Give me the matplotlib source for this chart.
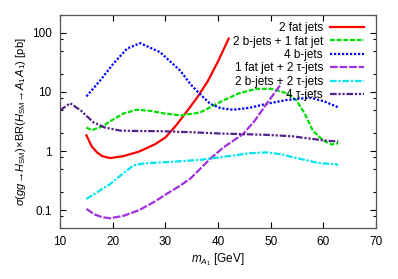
import numpy as np
import matplotlib
matplotlib.use('Agg')
import matplotlib.pyplot as plt
import matplotlib.ticker as ticker

plt.rcParams['font.family'] = ['Liberation Sans', 'DejaVu Sans']
plt.rcParams['mathtext.fontset'] = 'custom'
plt.rcParams['mathtext.rm'] = 'Liberation Sans'
plt.rcParams['mathtext.it'] = 'Liberation Sans:italic'

######################
## data
######################

fat2_x = [15, 16, 17, 18, 19.5, 22, 25, 28, 30, 32, 34, 36, 38, 40, 42]
fat2_y = [1.85, 1.2, 0.95, 0.82, 0.76, 0.82, 0.98, 1.3, 1.7, 2.7, 4.6, 8.0, 15, 33, 80]

b2fat1_x = [15, 16, 18, 20, 22, 24.5, 27, 30, 33, 36.6, 41, 44, 47.3, 50.2, 53, 54.9, 56.5, 58, 60, 61.6, 62.8]
b2fat1_y = [2.5, 2.25, 2.6, 3.4, 4.3, 5.0, 4.8, 4.3, 4.0, 4.5, 7.2, 9.5, 11.3, 11.3, 9.5, 7.2, 4.2, 2.2, 1.5, 1.29, 1.36]

b4_x = [15, 17.6, 20.1, 22.7, 25.2, 29, 32.8, 34.7, 36.2, 38.5, 40.5, 42.9, 46, 49.2, 53, 57.4, 60, 62.8]
b4_y = [8.4, 15.6, 30, 54, 67, 47, 23, 13.7, 9.9, 6.3, 5.3, 5.0, 5.4, 6.3, 7.3, 8.0, 7.0, 5.5]

fat1tau2_x = [15, 16.5, 18, 19.5, 22, 25, 28, 30.2, 32.5, 34.7, 36.6, 38.5, 41, 42.9, 44.8, 47, 49.2, 52]
fat1tau2_y = [0.105, 0.085, 0.076, 0.073, 0.08, 0.1, 0.14, 0.188, 0.25, 0.34, 0.5, 0.74, 1.15, 1.5, 1.96, 3.3, 6.3, 13.8]

b2tau2_x = [15, 17, 19.5, 22, 23.9, 26, 30.2, 36.6, 42.9, 46, 49.2, 52, 55.5, 59, 62.8]
b2tau2_y = [0.155, 0.2, 0.277, 0.42, 0.57, 0.62, 0.65, 0.71, 0.84, 0.92, 0.95, 0.88, 0.74, 0.63, 0.59]

tau4_x = [10, 11.9, 14, 16.3, 18.5, 21.4, 25, 29, 35, 40.4, 45, 49.2, 54, 58, 60.5, 62.8]
tau4_y = [4.9, 6.45, 4.8, 3.07, 2.5, 2.22, 2.18, 2.17, 2.08, 1.98, 1.93, 1.88, 1.78, 1.6, 1.5, 1.45]

labels = ['2 fat jets', '2 b-jets + 1 fat jet', '4 b-jets',
          '1 fat jet + 2 \u03c4-jets', '2 b-jets + 2 \u03c4-jets', '4 \u03c4-jets']

x_ticks = [10, 20, 30, 40, 50, 60, 70]
y_ticks = [0.1, 1, 10, 100]
y_ticklabels = ['0.1', '1', '10', '100']

######################
## setup plot
######################

fig = plt.figure(figsize=(3.98, 2.79), dpi=100)
ax = fig.add_axes([0.151, 0.183, 0.794, 0.763])

lw = 1.6
ax.plot(fat2_x, fat2_y, color='#ff0000', lw=lw, ls='-', label=labels[0])
ax.plot(b2fat1_x, b2fat1_y, color='#00e000', lw=lw, ls=(0, (2.2, 0.8)), label=labels[1])
ax.plot(b4_x, b4_y, color='#0000ff', lw=lw, ls=(0, (1.0, 0.8)), label=labels[2])
ax.plot(fat1tau2_x, fat1tau2_y, color='#a030e0', lw=lw, ls=(0, (3.5, 0.8)), label=labels[3])
ax.plot(b2tau2_x, b2tau2_y, color='#00e5ee', lw=lw, ls=(0, (3.0, 0.8, 1.0, 0.8)), label=labels[4])
ax.plot(tau4_x, tau4_y, color='#52228a', lw=lw, ls=(0, (3.0, 0.8, 1.0, 0.8, 1.0, 0.8)), label=labels[5])

ax.set_yscale('log')
ax.set_xlim(10, 70)
ax.set_ylim(0.05, 200)

ax.set_xticks(x_ticks)
ax.set_yticks(y_ticks)
ax.set_yticklabels(y_ticklabels)
ax.yaxis.set_minor_locator(ticker.LogLocator(base=10, subs=(2.0, 5.0, 8.0)))
ax.yaxis.set_minor_formatter(ticker.NullFormatter())

ax.tick_params(which='both', direction='in', top=True, right=True, labelsize=8.5, colors='black')
ax.tick_params(which='major', length=4, width=0.8, pad=6)
ax.tick_params(which='minor', length=2.5, width=0.8)
for sp in ax.spines.values():
    sp.set_color('#555555')
    sp.set_linewidth(0.9)

ax.set_xlabel(r'$m_{A_1}$ [GeV]', fontsize=8.5, labelpad=2)
ax.set_ylabel(r'$\sigma(gg\!\rightarrow\!H_{\rm SM})\!\times\!{\rm BR}(H_{\rm SM}\!\rightarrow\!A_1\,A_1)$ [pb]',
              fontsize=8, labelpad=3)

leg = ax.legend(loc='upper right', frameon=False, markerfirst=False, fontsize=8.5,
                handlelength=2.9, handletextpad=0.6, labelspacing=0.12,
                borderaxespad=0.2, bbox_to_anchor=(0.985, 1.0))
for col in leg._legend_handle_box.get_children():
    col.align = 'right'

plt.savefig('out.png', dpi=100)
